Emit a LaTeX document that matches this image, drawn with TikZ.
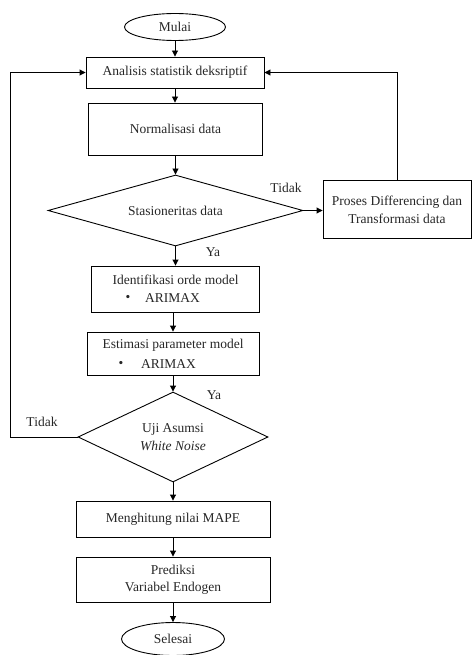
\documentclass[tikz,border=0pt]{standalone}
\usepackage{fontspec}
\setmainfont{Liberation Serif}
\usetikzlibrary{shapes.geometric,arrows.meta}
\begin{document}
\begin{tikzpicture}[x=1pt,y=-1pt,
  every node/.style={font=\fontsize{13.5}{18}\selectfont, inner sep=0pt, text=black!85},
  box/.style={draw=black, rectangle, line width=0.9pt, align=center},
  ell/.style={draw=black, ellipse, line width=0.9pt},
  dia/.style={draw=black, diamond, line width=0.9pt, align=center},
  arr/.style={line width=0.9pt, -{Triangle[length=6pt,width=6pt]}}]
\useasboundingbox (0,0) rectangle (472,655);

% nodes
\node[ell, minimum width=101pt, minimum height=27pt] (mulai) at (175,27) {Mulai};
\node[box, minimum width=178pt, minimum height=31pt] (anal) at (175,72.5) {Analisis statistik deksriptif};
\node[box, minimum width=174pt, minimum height=52pt] (norm) at (175.5,129) {Normalisasi data};
\node[dia, aspect=3.6, minimum width=255pt, minimum height=71pt] (stas) at (175.5,210.5) {Stasioneritas data};
\node[box, minimum width=148pt, minimum height=58pt] (proses) at (397,209.5) {Proses Differencing dan\\Transformasi data};

\node[box, minimum width=168pt, minimum height=46pt] (ident) at (175.5,289) {};
\node (identa) at (175.5,280) {Identifikasi orde model};
\node (identb) at (128,298) {\textbullet};
\node[anchor=west] (identc) at (145,298) {ARIMAX};

\node[box, minimum width=172pt, minimum height=43pt] (estim) at (173,353.5) {};
\node (estima) at (173,345) {Estimasi parameter model};
\node (estimb) at (121,364) {\textbullet};
\node[anchor=west] (estimc) at (141,364) {ARIMAX};

\node[dia, aspect=2.1, minimum width=190pt, minimum height=90pt] (uji) at (173,437) {Uji Asumsi\\\textit{White Noise}};
\node[box, minimum width=194pt, minimum height=36pt] (mape) at (173,519) {Menghitung nilai MAPE};
\node[box, minimum width=194pt, minimum height=45pt, font=\fontsize{13.5}{17}\selectfont] (pred) at (173,579.5) {Prediksi\\Variabel Endogen};
\node[ell, minimum width=103pt, minimum height=33pt] (selesai) at (173,639) {Selesai};

% labels
\node (t1) at (286,188) {Tidak};
\node (y1) at (213,252) {Ya};
\node (y2) at (214,395) {Ya};
\node (t2) at (42,422) {Tidak};

% connectors
\draw[arr] (mulai.south) -- (mulai.south |- anal.north);
\draw[arr] (anal.south) -- (anal.south |- norm.north);
\draw[arr] (norm.south) -- (norm.south |- stas.north);
\draw[arr] (stas.east) -- (stas.east -| proses.west);
\draw[arr] (proses.north) |- (anal.east);
\draw[arr] (stas.south) -- (ident.north);
\draw[arr] (ident.south -| estim.north) -- (estim.north);
\draw[arr] (estim.south) -- (uji.north);
\draw[arr] (uji.south) -- (mape.north);
\draw[arr] (mape.south) -- (pred.north);
\draw[arr] (pred.south) -- (selesai.north);
\coordinate (lc) at (10,437);
\draw[arr] (uji.west) -- (lc) |- (anal.west);
\end{tikzpicture}
\end{document}
